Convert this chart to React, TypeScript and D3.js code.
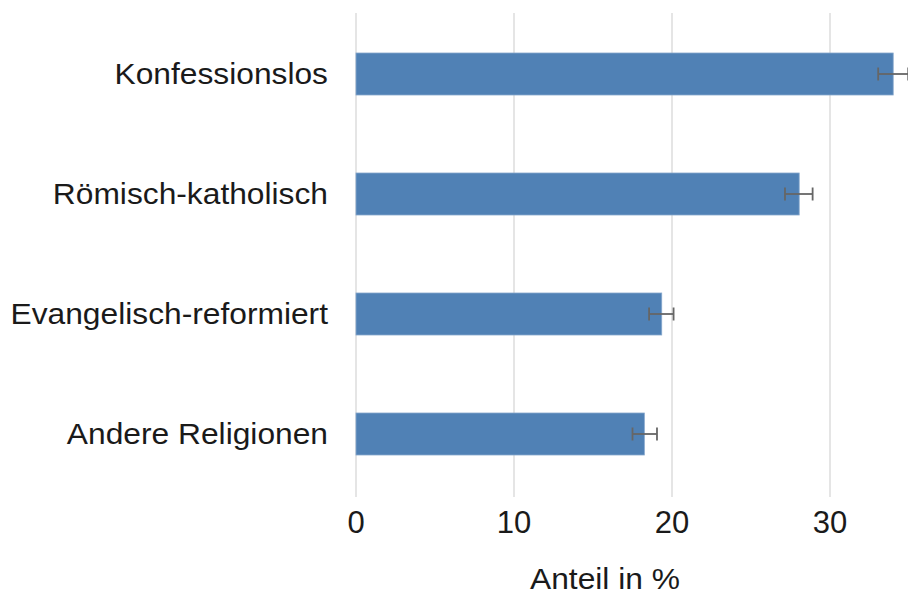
import { useEffect } from "react";
import * as d3 from "d3";

const categories = [
  "Konfessionslos",
  "Römisch-katholisch",
  "Evangelisch-reformiert",
  "Andere Religionen",
];
const values = [34.0, 28.05, 19.35, 18.25];
const lower = [33.05, 27.15, 18.55, 17.5];
const upper = [34.95, 28.9, 20.1, 19.05];
const xTicks = [0, 10, 20, 30];
const xTitle = "Anteil in %";

const WIDTH = 908;
const HEIGHT = 594;
const FONT = "'Liberation Sans', Arial, Helvetica, sans-serif";
// labels in the source look slightly stretched sideways
const STRETCH = 1.095;

export default function App() {
  useEffect(() => {
    document.body.style.margin = "0";
  }, []);

  const x = d3.scaleLinear().domain([0, 30]).range([356, 830]);
  const y = d3
    .scaleBand<string>()
    .domain(categories)
    .range([14, 494])
    .paddingInner(0.65)
    .paddingOuter(0.325);
  const bh = y.bandwidth();
  const cap = 13;

  return (
    <svg width={WIDTH} height={HEIGHT} style={{ display: "block" }} fontFamily={FONT}>
      <rect width={WIDTH} height={HEIGHT} fill="#ffffff" />
      <g>
        {xTicks.map((t) => (
          <line
            key={t}
            x1={x(t)}
            x2={x(t)}
            y1={13}
            y2={497}
            stroke="#dddddd"
            strokeWidth={1.5}
          />
        ))}
      </g>
      <g>
        {categories.map((c, i) => (
          <rect
            key={c}
            x={x(0)}
            y={y(c)!}
            width={x(values[i]) - x(0)}
            height={bh}
            fill="#5081b5"
            stroke="#86a7cc"
            strokeWidth={0.8}
          />
        ))}
      </g>
      <g stroke="#666666" strokeWidth={1.8} fill="none">
        {categories.map((c, i) => {
          const cy = y(c)! + bh / 2;
          return (
            <g key={c}>
              <line x1={x(lower[i])} x2={x(upper[i])} y1={cy} y2={cy} />
              <line x1={x(lower[i])} x2={x(lower[i])} y1={cy - cap / 2} y2={cy + cap / 2} />
              <line x1={x(upper[i])} x2={x(upper[i])} y1={cy - cap / 2} y2={cy + cap / 2} />
            </g>
          );
        })}
      </g>
      <g fontSize={29} fill="#1a1a1a" textAnchor="end">
        {categories.map((c) => (
          <text
            key={c}
            transform={`translate(328,${y(c)! + bh / 2}) scale(${STRETCH},1)`}
            dy="0.33em"
          >
            {c}
          </text>
        ))}
      </g>
      <g fontSize={31} fill="#1a1a1a" textAnchor="middle">
        {xTicks.map((t) => (
          <text key={t} x={x(t)} y={533}>
            {t}
          </text>
        ))}
      </g>
      <text
        transform={`translate(605,589) scale(${STRETCH},1)`}
        fontSize={29}
        fill="#1a1a1a"
        textAnchor="middle"
      >
        {xTitle}
      </text>
    </svg>
  );
}
